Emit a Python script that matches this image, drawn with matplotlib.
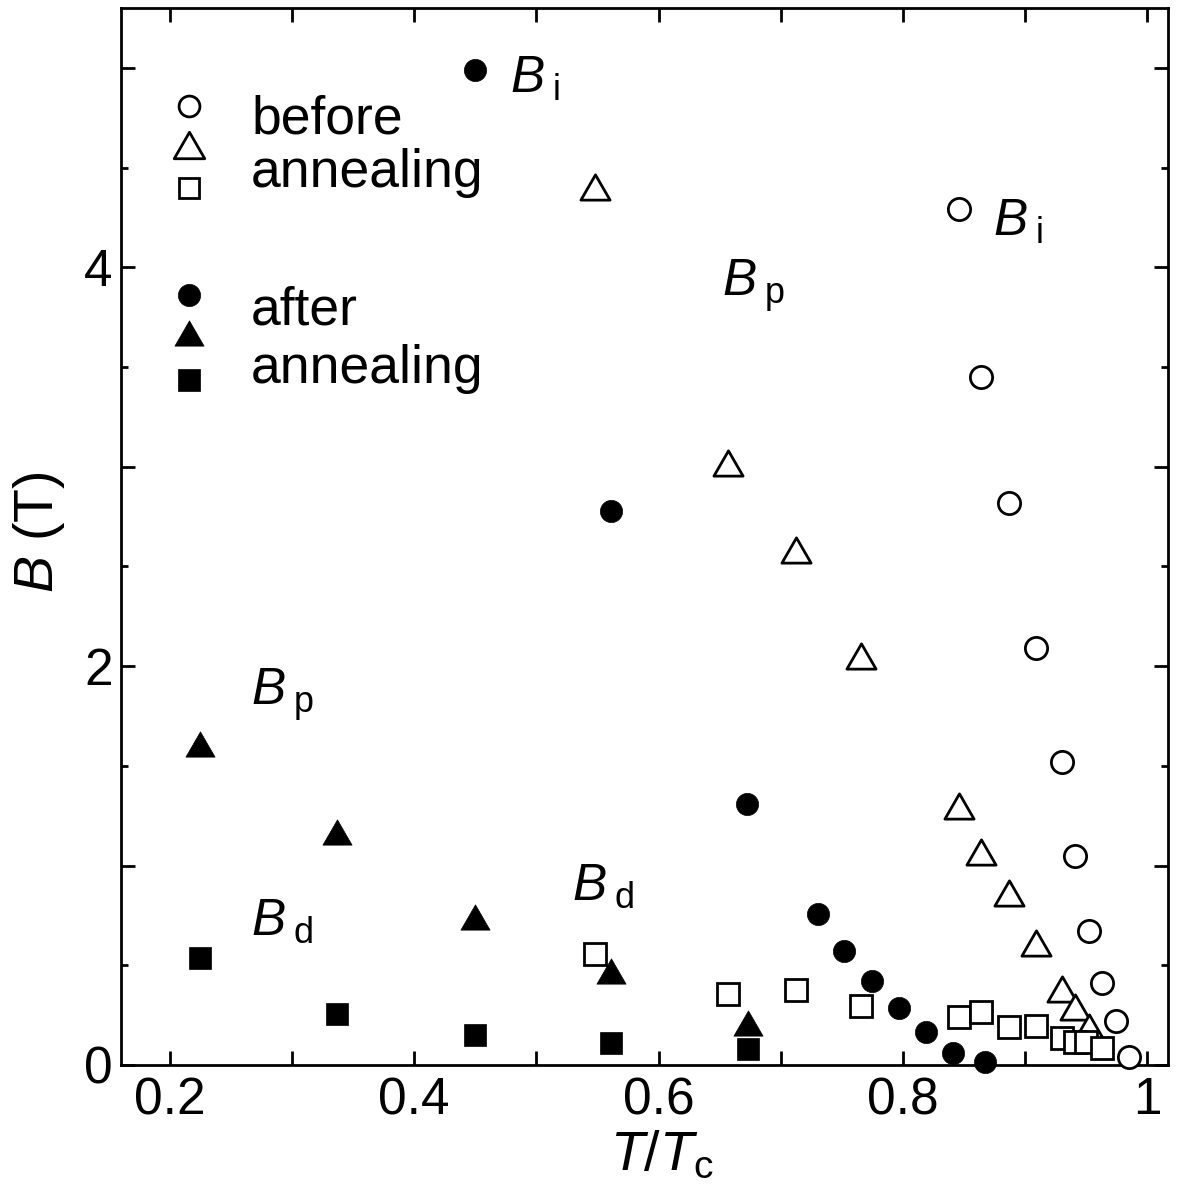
import matplotlib
matplotlib.use("Agg")
import matplotlib.pyplot as plt
from matplotlib.path import Path
from matplotlib.ticker import FixedLocator, MultipleLocator

plt.rcParams["font.family"] = ["Liberation Sans", "DejaVu Sans"]
plt.rcParams["mathtext.fontset"] = "custom"
plt.rcParams["mathtext.rm"] = "Liberation Sans"
plt.rcParams["mathtext.it"] = "Liberation Sans:italic"
plt.rcParams["mathtext.bf"] = "Liberation Sans:bold"

# ---- data: reduced temperature T/Tc and characteristic fields B (tesla) ----
# before annealing (open symbols)
before_T_Bi = [0.846, 0.864, 0.887, 0.909, 0.930, 0.941, 0.952, 0.963, 0.974, 0.985]
before_Bi = [4.29, 3.45, 2.82, 2.09, 1.52, 1.05, 0.67, 0.41, 0.22, 0.04]

before_T_Bp = [0.548, 0.657, 0.712, 0.766, 0.846, 0.864, 0.887, 0.909, 0.930, 0.941, 0.952]
before_Bp = [4.40, 3.02, 2.58, 2.05, 1.30, 1.07, 0.86, 0.61, 0.38, 0.29, 0.19]

before_T_Bd = [0.548, 0.657, 0.712, 0.766, 0.846, 0.864, 0.887, 0.909, 0.930, 0.941, 0.950, 0.963]
before_Bd = [0.556, 0.356, 0.376, 0.296, 0.241, 0.266, 0.190, 0.195, 0.135, 0.115, 0.115, 0.085]

# after annealing (filled symbols)
after_T_Bi = [0.450, 0.561, 0.672, 0.730, 0.752, 0.775, 0.797, 0.819, 0.841, 0.867]
after_Bi = [4.99, 2.78, 1.31, 0.757, 0.571, 0.421, 0.286, 0.165, 0.060, 0.015]

after_T_Bp = [0.225, 0.337, 0.450, 0.561, 0.673]
after_Bp = [1.61, 1.17, 0.74, 0.47, 0.21]

after_T_Bd = [0.225, 0.337, 0.450, 0.561, 0.673]
after_Bd = [0.536, 0.256, 0.150, 0.110, 0.080]

x_ticks = [0.2, 0.3, 0.4, 0.5, 0.6, 0.7, 0.8, 0.9, 1.0]
x_ticklabels = ["0.2", "", "0.4", "", "0.6", "", "0.8", "", "1"]
y_ticks = [0, 1, 2, 3, 4, 5]
y_ticklabels = ["0", "", "2", "", "4", ""]

# equilateral triangle marker centred on its bounding box
TRI = Path([(0, 0.866), (-1, -0.866), (1, -0.866), (0, 0.866)],
           [Path.MOVETO, Path.LINETO, Path.LINETO, Path.CLOSEPOLY])

FS = 37
fig = plt.figure(figsize=(11.86, 11.91), dpi=100)
ax = fig.add_axes([0.102, 0.1058, 0.883, 0.8875])

open_kw = dict(ls="none", mfc="white", mec="black", mew=2.0, clip_on=False, zorder=3)
fill_kw = dict(ls="none", mfc="black", mec="black", mew=0.5, clip_on=False, zorder=3)

ax.plot(before_T_Bi, before_Bi, marker="o", ms=16, **open_kw)
ax.plot(before_T_Bp, before_Bp, marker=TRI, ms=21, **open_kw)
ax.plot(before_T_Bd, before_Bd, marker="s", ms=16, **open_kw)
ax.plot(after_T_Bi, after_Bi, marker="o", ms=16, **fill_kw)
ax.plot(after_T_Bp, after_Bp, marker=TRI, ms=21, **fill_kw)
ax.plot(after_T_Bd, after_Bd, marker="s", ms=16, **fill_kw)

ax.set_xlim(0.16, 1.017)
ax.set_ylim(0, 5.3)

ax.xaxis.set_major_locator(FixedLocator(x_ticks))
ax.set_xticklabels(x_ticklabels)
ax.yaxis.set_major_locator(FixedLocator(y_ticks))
ax.set_yticklabels(y_ticklabels)
ax.yaxis.set_minor_locator(MultipleLocator(0.5))

ax.tick_params(which="both", direction="in", top=True, right=True, width=2, labelsize=FS)
ax.tick_params(which="major", length=10)
ax.tick_params(which="minor", length=5)
ax.tick_params(axis="x", pad=8)
ax.tick_params(axis="y", pad=6)
for sp in ax.spines.values():
    sp.set_linewidth(2)

# axis titles
ax.text(0.516, -0.0993, r"$T$/$T_{\rm c}$", transform=ax.transAxes,
        ha="center", va="baseline", fontsize=40)
ax.text(-0.065, 0.504, r"$B$ (T)", transform=ax.transAxes, rotation=90,
        rotation_mode="anchor", ha="center", va="baseline", fontsize=40)

# series annotations
annotations = [
    (0.478, 4.877, r"$B_{\;\rm i}$"),
    (0.8735, 4.160, r"$B_{\;\rm i}$"),
    (0.6517, 3.860, r"$B_{\;\rm p}$"),
    (0.2663, 1.805, r"$B_{\;\rm p}$"),
    (0.2663, 0.652, r"$B_{\;\rm d}$"),
    (0.529, 0.827, r"$B_{\;\rm d}$"),
]
for x, y, s in annotations:
    ax.text(x, y, s, ha="left", va="baseline", fontsize=FS)

# key: symbol column with descriptive text beside it
kx = 0.0649
ax.plot([kx], [0.9073], marker="o", ms=15, transform=ax.transAxes, **open_kw)
ax.plot([kx], [0.8704], marker=TRI, ms=22, transform=ax.transAxes, **open_kw)
ax.plot([kx], [0.8297], marker="s", ms=15, transform=ax.transAxes, **open_kw)
ax.plot([kx], [0.7285], marker="o", ms=16, transform=ax.transAxes, **fill_kw)
ax.plot([kx], [0.6925], marker=TRI, ms=21, transform=ax.transAxes, **fill_kw)
ax.plot([kx], [0.6481], marker="s", ms=16, transform=ax.transAxes, **fill_kw)

tx = 0.1242
KFS = 38.5
ax.text(tx, 0.8817, "before", transform=ax.transAxes, ha="left", va="baseline", fontsize=KFS)
ax.text(tx, 0.8307, "annealing", transform=ax.transAxes, ha="left", va="baseline", fontsize=KFS)
ax.text(tx, 0.7001, "after", transform=ax.transAxes, ha="left", va="baseline", fontsize=KFS)
ax.text(tx, 0.6452, "annealing", transform=ax.transAxes, ha="left", va="baseline", fontsize=KFS)

fig.savefig("out.png", dpi=100)
